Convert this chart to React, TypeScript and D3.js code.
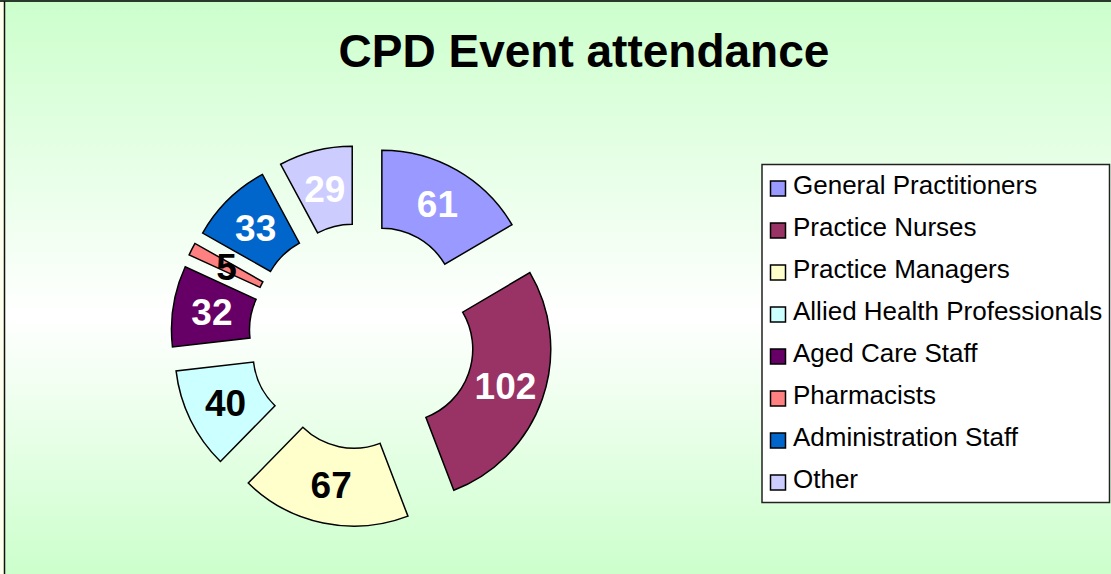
import { useEffect, useRef } from 'react';
import * as d3 from 'd3';

const categories = [
  'General Practitioners',
  'Practice Nurses',
  'Practice Managers',
  'Allied Health Professionals',
  'Aged Care Staff',
  'Pharmacists',
  'Administration Staff',
  'Other'
];
const attendance = [61, 102, 67, 40, 32, 5, 33, 29];
const sliceColors = ['#9999ff', '#993366', '#ffffcc', '#ccffff', '#660066', '#ff8080', '#0066cc', '#ccccff'];
const labelColors = ['#ffffff', '#ffffff', '#000000', '#000000', '#ffffff', '#000000', '#ffffff', '#ffffff'];

const FONT = '"Liberation Sans", Arial, Helvetica, sans-serif';

type Slice = { name: string; value: number; color: string; labelColor: string };

const App = () => {
  const chartRef = useRef<SVGSVGElement | null>(null);

  useEffect(() => {
    if (!chartRef.current) return;
    const svg = d3.select(chartRef.current);
    svg.selectAll('*').remove();

    const width = 1111;
    const height = 574;

    // background gradient
    const defs = svg.append('defs');
    const bg = defs
      .append('linearGradient')
      .attr('id', 'bg-gradient')
      .attr('x1', '0%')
      .attr('y1', '0%')
      .attr('x2', '0%')
      .attr('y2', '100%');
    bg.append('stop').attr('offset', '0%').attr('stop-color', '#ccffcc');
    bg.append('stop').attr('offset', '55%').attr('stop-color', '#ffffff');
    bg.append('stop').attr('offset', '100%').attr('stop-color', '#ccffcc');

    svg.append('rect').attr('width', width).attr('height', height).attr('fill', '#ffffee');
    svg
      .append('rect')
      .attr('x', 4)
      .attr('y', 1)
      .attr('width', width - 4)
      .attr('height', height - 1)
      .attr('fill', 'url(#bg-gradient)');
    svg
      .append('line')
      .attr('x1', 0)
      .attr('x2', width)
      .attr('y1', 1)
      .attr('y2', 1)
      .attr('stroke', '#2a3a2a')
      .attr('stroke-width', 2);
    svg
      .append('line')
      .attr('x1', 4.5)
      .attr('x2', 4.5)
      .attr('y1', 1)
      .attr('y2', height)
      .attr('stroke', '#111')
      .attr('stroke-width', 1.5);

    // title
    svg
      .append('text')
      .attr('x', 584)
      .attr('y', 67)
      .attr('text-anchor', 'middle')
      .style('font-family', FONT)
      .style('font-weight', 'bold')
      .style('font-size', '46px')
      .style('fill', '#000')
      .text('CPD Event attendance');

    const data: Slice[] = categories.map((name, i) => ({
      name,
      value: attendance[i],
      color: sliceColors[i],
      labelColor: labelColors[i]
    }));

    // exploded doughnut
    const cx = 362;
    const cy = 336;
    const outerR = 151;
    const innerR = 73;
    const explode = 40;

    const pie = d3
      .pie<Slice>()
      .sort(null)
      .value((d) => d.value);
    const arc = d3.arc<d3.PieArcDatum<Slice>>().innerRadius(innerR).outerRadius(outerR);

    const g = svg.append('g').attr('transform', `translate(${cx}, ${cy})`);
    const slices = g
      .selectAll('.slice')
      .data(pie(data))
      .enter()
      .append('g')
      .attr('class', 'slice')
      .attr('transform', (d) => {
        const mid = (d.startAngle + d.endAngle) / 2;
        return `translate(${explode * Math.sin(mid)}, ${-explode * Math.cos(mid)})`;
      });

    slices
      .append('path')
      .attr('d', arc)
      .attr('fill', (d) => d.data.color)
      .attr('stroke', '#000')
      .attr('stroke-width', 1.5)
      .attr('stroke-linejoin', 'miter');

    slices
      .append('text')
      .attr('x', (d) => arc.centroid(d)[0])
      .attr('y', (d) => arc.centroid(d)[1])
      .attr('text-anchor', 'middle')
      .attr('dy', '0.36em')
      .style('font-family', FONT)
      .style('font-weight', 'bold')
      .style('font-size', '37px')
      .style('fill', (d) => d.data.labelColor)
      .text((d) => d.data.value);

    // legend
    const legend = svg.append('g').attr('class', 'legend');
    legend
      .append('rect')
      .attr('x', 762)
      .attr('y', 164.5)
      .attr('width', 347.5)
      .attr('height', 338)
      .attr('fill', '#ffffff')
      .attr('stroke', '#222')
      .attr('stroke-width', 1.5);

    const items = legend
      .selectAll('.item')
      .data(data)
      .enter()
      .append('g')
      .attr('class', 'item')
      .attr('transform', (_, i) => `translate(770, ${194 + i * 42})`);

    items
      .append('rect')
      .attr('x', 0.5)
      .attr('y', -13)
      .attr('width', 15)
      .attr('height', 15)
      .attr('fill', (d) => d.color)
      .attr('stroke', '#000')
      .attr('stroke-width', 1.5);

    items
      .append('text')
      .attr('x', 23)
      .attr('y', 0)
      .style('font-family', FONT)
      .style('font-size', '26px')
      .style('fill', '#000')
      .text((d) => d.name);
  }, []);

  return (
    <svg
      ref={chartRef}
      width={1111}
      height={574}
      style={{ position: 'absolute', left: 0, top: 0, display: 'block' }}
    />
  );
};

export default App;
